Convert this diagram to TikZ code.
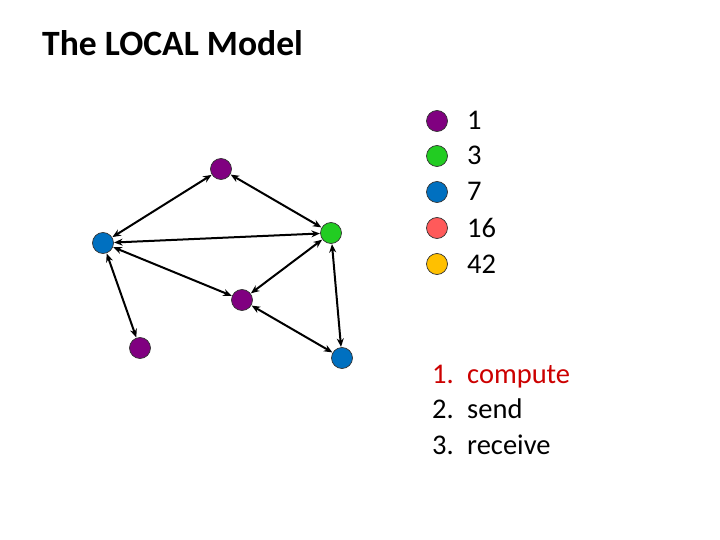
\documentclass[tikz,border=0pt]{standalone}
\usepackage{fontspec}
\setmainfont{Carlito}
\usetikzlibrary{arrows.meta}
\definecolor{cpurple}{RGB}{128,0,128}
\definecolor{cgreen}{RGB}{34,204,34}
\definecolor{cblue}{RGB}{0,112,192}
\definecolor{cred}{RGB}{255,90,90}
\definecolor{cyellow}{RGB}{255,192,0}
\definecolor{listred}{RGB}{204,0,0}
\tikzset{
  vert/.style={circle,draw=black!80,line width=0.7pt,minimum size=21pt,inner sep=0pt},
  edge/.style={{Stealth[length=8.5pt,width=7pt]}-{Stealth[length=8.5pt,width=7pt]},line width=2pt,shorten >=0.3pt,shorten <=0.3pt},
  lbl/.style={anchor=base west,inner sep=0pt,font=\fontsize{28.5}{30}\selectfont},
}
\begin{document}
\begin{tikzpicture}[x=1pt,y=-1pt]
\useasboundingbox (0,0) rectangle (720,540);
\node[anchor=base west,inner sep=0pt,font=\fontsize{35.6}{38}\selectfont\bfseries] (title) at (42,56) {The LOCAL Model};
% graph
\node[vert,fill=cpurple] (a) at (221,169) {};
\node[vert,fill=cblue] (b) at (103,243) {};
\node[vert,fill=cgreen] (c) at (331,233) {};
\node[vert,fill=cpurple] (d) at (242,300) {};
\node[vert,fill=cpurple] (e) at (140,348) {};
\node[vert,fill=cblue] (f) at (342,358) {};
\draw[edge] (a) -- (b);
\draw[edge] (a) -- (c);
\draw[edge] (b) -- (c);
\draw[edge] (b) -- (d);
\draw[edge] (b) -- (e);
\draw[edge] (c) -- (d);
\draw[edge] (c) -- (f);
\draw[edge] (d) -- (f);
% legend
\node[vert,fill=cpurple] (l1) at (437,121) {};
\node[vert,fill=cgreen] (l2) at (437,156) {};
\node[vert,fill=cblue] (l3) at (437,192) {};
\node[vert,fill=cred] (l4) at (437,228) {};
\node[vert,fill=cyellow] (l5) at (437,264) {};
\node[lbl] (t1) at (467,130) {1};
\node[lbl] (t2) at (467,165) {3};
\node[lbl] (t3) at (467,201) {7};
\node[lbl] (t4) at (467,237) {16};
\node[lbl] (t5) at (467,273) {42};
% list
\node[lbl,text=listred] (n1) at (432,383) {1.};
\node[lbl,text=listred] (s1) at (467,383) {compute};
\node[lbl] (n2) at (432,418.5) {2.};
\node[lbl] (s2) at (467,418.5) {send};
\node[lbl] (n3) at (432,454) {3.};
\node[lbl] (s3) at (467,454) {receive};
\end{tikzpicture}
\end{document}
